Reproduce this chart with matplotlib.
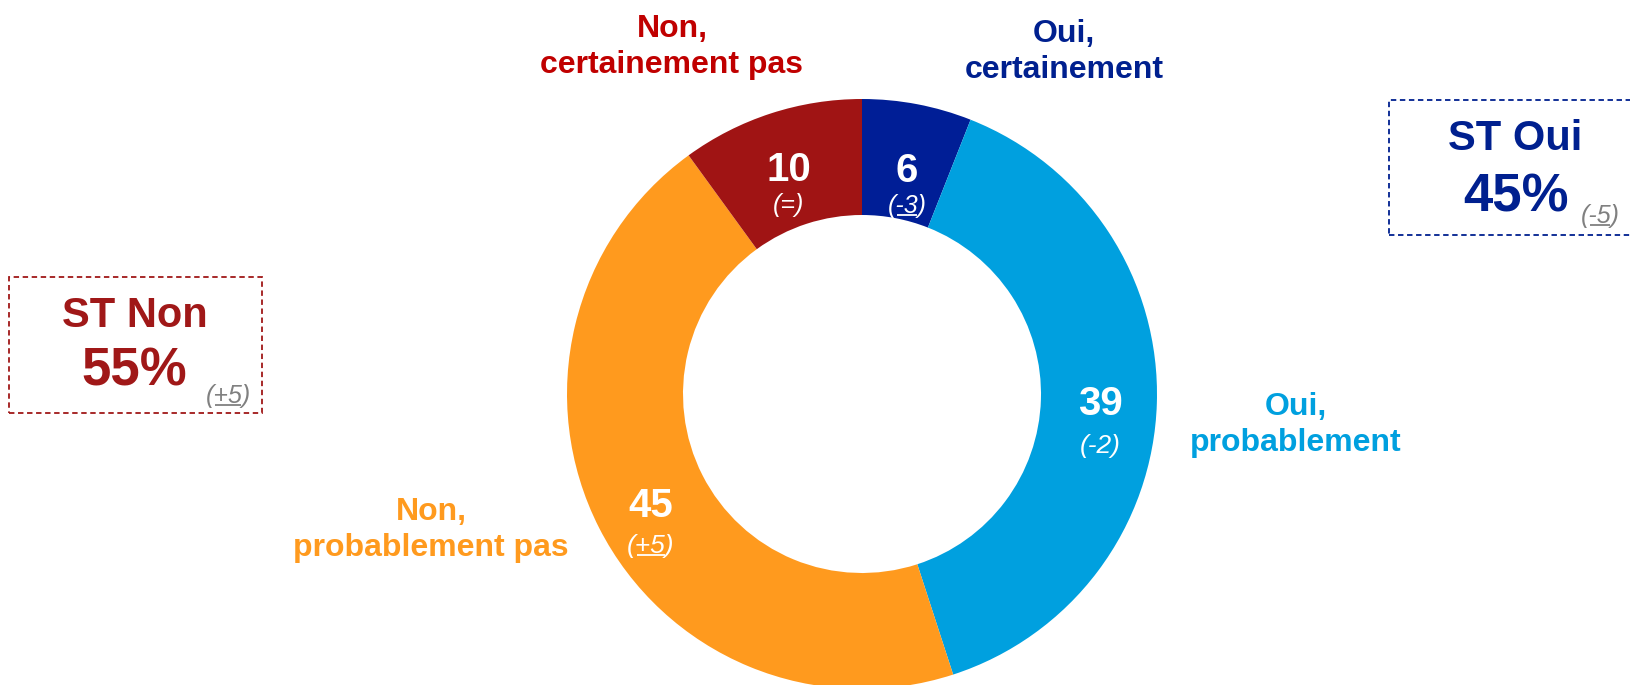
import matplotlib
matplotlib.use("Agg")
import matplotlib.pyplot as plt
from matplotlib.patches import Rectangle

# data
categories = ["Oui, certainement", "Oui, probablement", "Non, probablement pas", "Non, certainement pas"]
values = [6, 39, 45, 10]
deltas = ["-3", "-2", "+5", "="]
underlined = [True, False, True, False]
colors = ["#001E96", "#00A0DF", "#FF9A1E", "#A01414"]
label_colors = ["#00208F", "#00A0DF", "#FF9A1E", "#C00000"]
st_labels = ["ST Oui", "ST Non"]
st_values = [45, 55]
st_deltas = ["-5", "+5"]
st_colors = ["#00208F", "#A01818"]

W, H = 1631, 685
plt.rcParams['font.family'] = ['Liberation Sans', 'DejaVu Sans']

fig = plt.figure(figsize=(W / 100, H / 100), dpi=100)
ax = fig.add_axes([0, 0, 1, 1])


def Y(y):
    # pixel row (from top) -> data y
    return H - y


cx, cy, r_out, r_in = 862, 394, 295, 179
ax.pie(values, colors=colors, startangle=90, counterclock=False,
       center=(cx, Y(cy)), radius=r_out, frame=True,
       wedgeprops=dict(width=r_out - r_in, linewidth=0))
ax.set_xlim(0, W)
ax.set_ylim(0, H)
ax.set_aspect('equal')
ax.axis('off')

underlines = []  # (text artist, color)

# values inside the ring: x, baseline of value, baseline of delta, delta size
val_pos = [(907, 182, 213, 18), (1100, 415, 453, 19), (651, 517, 553, 19), (789, 181, 212, 18)]
for v, d, u, (x, y1, y2, fs) in zip(values, deltas, underlined, val_pos):
    ax.text(x, Y(y1), str(v), color="white", fontsize=29, fontweight="bold",
            ha="center", va="baseline")
    t = ax.text(x, Y(y2), "(" + d + ")", color="white", fontsize=fs, style="italic",
                ha="center", va="baseline")
    if u:
        underlines.append((t, "white"))

# category labels
lab_pos = [(1064, 52), (1296, 425), (431, 530), (672, 47)]
for cat, c, (x, y) in zip(categories, label_colors, lab_pos):
    ax.text(x, Y(y), cat.replace(", ", ",\n"), color=c, fontsize=23, fontweight="bold",
            ha="center", va="center", linespacing=1.28)

# ST boxes
boxes = [(1389, 100, 260, 135), (9, 277, 253, 136)]
st_pos = [((1515, 150), (1516, 212), (1600, 223)), ((135, 327), (134, 385), (228, 403))]
for lab, v, d, c, (bx, by, bw, bh), (p1, p2, p3) in zip(st_labels, st_values, st_deltas,
                                                           st_colors, boxes, st_pos):
    ax.add_patch(Rectangle((bx, Y(by + bh)), bw, bh, fill=False, edgecolor=c,
                           linewidth=1.3, linestyle=(0, (3, 2)), clip_on=False))
    ax.text(p1[0], Y(p1[1]), lab, color=c, fontsize=30, fontweight="bold",
            ha="center", va="baseline")
    ax.text(p2[0], Y(p2[1]), f"{v}%", color=c, fontsize=38, fontweight="bold",
            ha="center", va="baseline")
    t = ax.text(p3[0], Y(p3[1]), "(" + d + ")", color="#808080", fontsize=18,
                style="italic", ha="center", va="baseline")
    underlines.append((t, "#808080"))

# underline the inner part of the delta texts, just below the baseline
fig.canvas.draw()
renderer = fig.canvas.get_renderer()
inv = ax.transData.inverted()
for t, c in underlines:
    bb = t.get_window_extent(renderer)
    fp = t.get_fontproperties()
    wp, _, dp = renderer.get_text_width_height_descent("(", fp, ismath=False)
    _, _, dt = renderer.get_text_width_height_descent(t.get_text(), fp, ismath=False)
    x0, y0 = inv.transform((bb.x0 + wp + 1, bb.y0 + dt - 2))
    x1, _ = inv.transform((bb.x1 - wp - 1, bb.y0))
    ax.plot([x0, x1], [y0, y0], color=c, linewidth=1.3, solid_capstyle="butt")

fig.savefig("out.png", dpi=100)
